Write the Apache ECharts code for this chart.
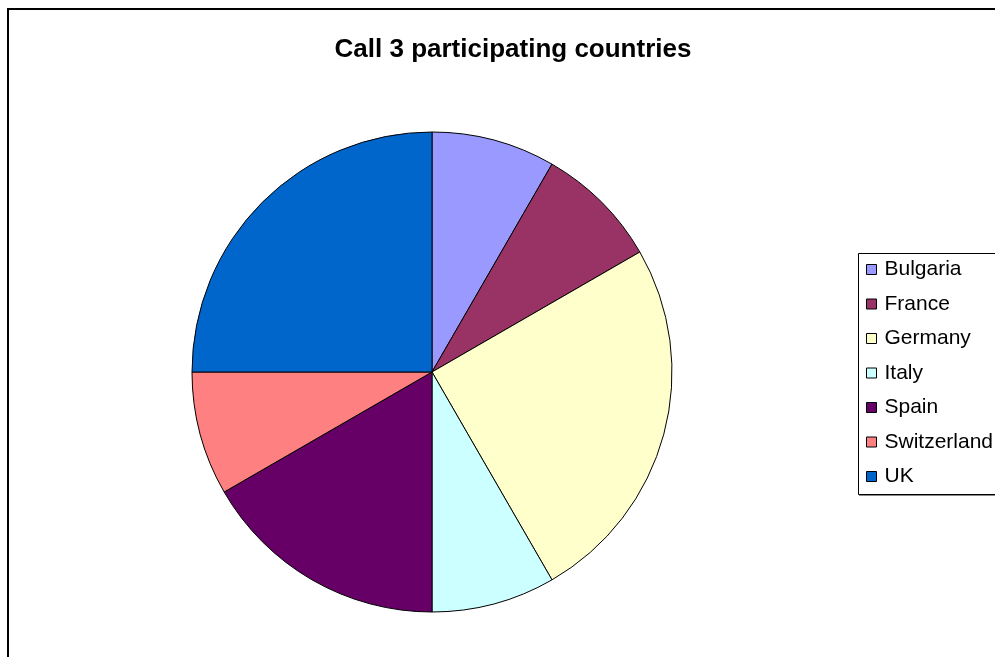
<!DOCTYPE html>
<html>
<head>
<meta charset="utf-8">
<script src="https://cdn.jsdelivr.net/npm/echarts@6/dist/echarts.min.js"></script>
<style>
  html, body { margin: 0; padding: 0; background: #fff; }
  #chart { width: 995px; height: 657px; }
</style>
</head>
<body>
<div id="chart"></div>
<script>
// Participating countries and number of partners per country
const countries = ['Bulgaria', 'France', 'Germany', 'Italy', 'Spain', 'Switzerland', 'UK'];
const partners = [1, 1, 3, 1, 2, 1, 3];
const sliceColors = ['#9999FF', '#993366', '#FFFFCC', '#CCFFFF', '#660066', '#FF8080', '#0066CC'];

const chart = echarts.init(document.getElementById('chart'));

chart.setOption({
  animation: false,
  backgroundColor: '#fff',
  color: sliceColors,
  title: {
    text: 'Call 3 participating countries',
    left: 508,
    top: 32,
    textAlign: 'center',
    textStyle: { fontFamily: 'Liberation Sans, Arial, sans-serif', fontSize: 26, fontWeight: 'bold', color: '#000' }
  },
  graphic: [
    { type: 'rect', shape: { x: 8, y: 9, width: 1000, height: 700 }, style: { fill: 'none', stroke: '#000', lineWidth: 2 }, silent: true },
    { type: 'rect', shape: { x: 858.5, y: 253.5, width: 160, height: 241 }, style: { fill: '#fff', stroke: '#000', lineWidth: 1 }, silent: true, z: 1 },
    { type: 'line', shape: { x1: 859, y1: 495.5, x2: 1000, y2: 495.5 }, style: { stroke: '#888', lineWidth: 1 }, silent: true, z: 1 }
  ],
  legend: {
    orient: 'vertical',
    left: 866,
    top: 259,
    padding: 0,
    icon: 'rect',
    itemWidth: 10,
    itemHeight: 10,
    itemGap: 13.5,
    z: 5,
    data: countries,
    itemStyle: { borderColor: '#000', borderWidth: 1 },
    textStyle: { fontFamily: 'Liberation Sans, Arial, sans-serif', fontSize: 21, lineHeight: 21, color: '#000', padding: [0, 0, 0, 3] }
  },
  series: [{
    type: 'pie',
    center: [432, 372],
    radius: 240,
    startAngle: 90,
    clockwise: true,
    label: { show: false },
    labelLine: { show: false },
    emphasis: { disabled: true },
    itemStyle: { borderColor: '#000', borderWidth: 1 },
    data: countries.map((name, i) => ({ name, value: partners[i] }))
  }]
});
</script>
</body>
</html>
